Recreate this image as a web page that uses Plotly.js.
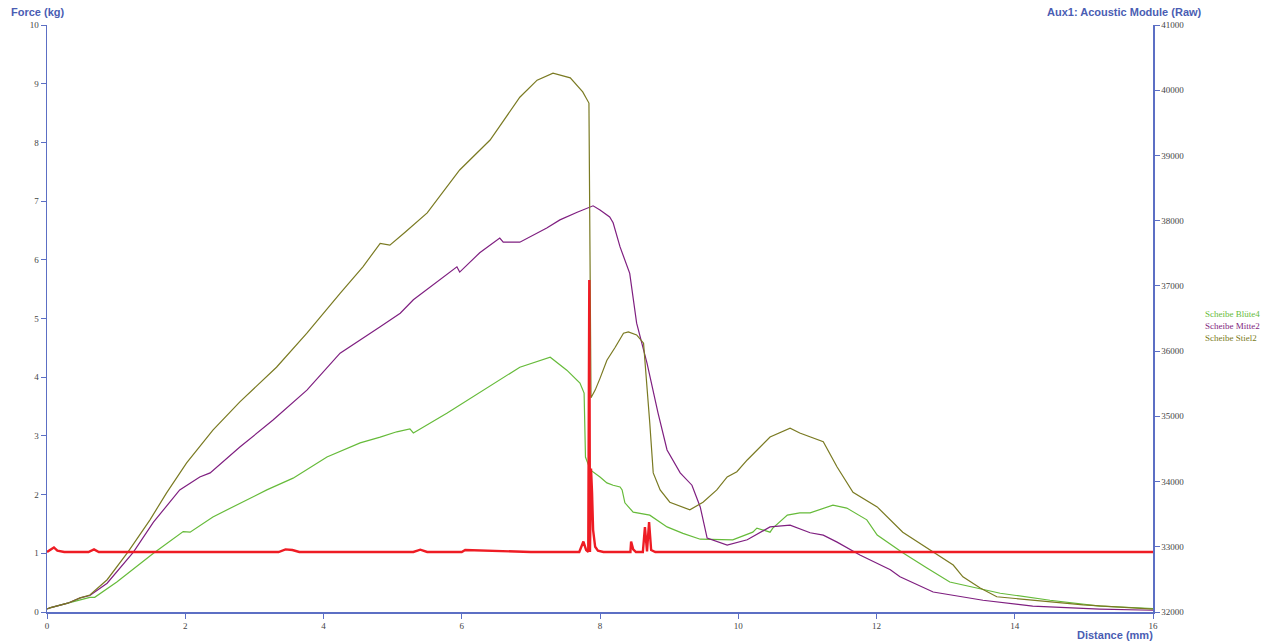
<!DOCTYPE html>
<html><head><meta charset="utf-8">
<script src="https://cdn.plot.ly/plotly-3.0.1.min.js"></script>
<style>html,body{margin:0;padding:0;background:#fff}#chart{width:1268px;height:641px}</style>
</head><body><div id="chart"></div>
<script>
// Scheibe Blüte4 (green)
const blueteX = [0,0.04,0.3,0.62,0.69,1.01,1.54,1.97,2.07,2.40,3.18,3.56,4.05,4.53,4.82,5.06,5.25,5.30,5.79,6.37,6.84,7.28,7.52,7.71,7.77,7.79,7.86,8.00,8.10,8.19,8.29,8.32,8.36,8.48,8.72,8.97,9.20,9.45,9.92,10.21,10.27,10.46,10.50,10.71,10.89,11.04,11.37,11.57,11.86,12.01,12.38,12.73,13.06,13.79,14.51,15.23,16];
const blueteY = [0.05,0.07,0.15,0.25,0.25,0.51,1.00,1.37,1.36,1.62,2.08,2.28,2.64,2.88,2.98,3.07,3.12,3.05,3.39,3.82,4.17,4.34,4.12,3.90,3.73,2.64,2.42,2.30,2.20,2.16,2.13,2.08,1.86,1.70,1.65,1.45,1.34,1.24,1.23,1.36,1.43,1.36,1.43,1.65,1.69,1.69,1.82,1.77,1.57,1.31,1.01,0.75,0.51,0.32,0.20,0.10,0.06];
// Scheibe Mitte2 (purple)
const mitteX = [0,0.04,0.3,0.48,0.62,0.87,1.25,1.54,1.92,2.21,2.36,2.79,3.27,3.76,4.24,4.53,4.82,5.11,5.30,5.93,5.97,6.26,6.55,6.60,6.84,7.23,7.42,7.67,7.90,8.00,8.14,8.19,8.29,8.43,8.53,8.68,8.84,8.97,9.16,9.33,9.45,9.55,9.84,10.13,10.46,10.75,11.04,11.23,11.43,11.76,12.20,12.34,12.82,13.54,14.26,15.23,16];
const mitteY = [0.05,0.07,0.15,0.24,0.28,0.49,1.02,1.53,2.08,2.30,2.37,2.81,3.27,3.78,4.41,4.63,4.86,5.09,5.32,5.88,5.79,6.12,6.37,6.30,6.30,6.54,6.68,6.81,6.92,6.85,6.73,6.63,6.22,5.77,4.92,4.24,3.39,2.76,2.37,2.16,1.79,1.26,1.14,1.23,1.45,1.48,1.35,1.31,1.19,0.97,0.72,0.60,0.34,0.20,0.10,0.05,0.03];
// Scheibe Stiel2 (olive)
const stielX = [0,0.04,0.3,0.48,0.62,0.87,1.17,1.49,1.73,2.02,2.40,2.79,3.32,3.76,4.24,4.57,4.82,4.96,5.18,5.50,5.97,6.41,6.84,7.09,7.32,7.57,7.75,7.84,7.87,7.93,8.00,8.10,8.22,8.34,8.41,8.53,8.63,8.68,8.72,8.77,8.87,9.01,9.30,9.49,9.69,9.84,9.98,10.13,10.46,10.75,10.89,11.23,11.43,11.66,12.01,12.38,12.82,13.11,13.25,13.50,13.74,14.26,14.99,16];
const stielY = [0.05,0.07,0.15,0.24,0.29,0.55,1.02,1.57,2.03,2.54,3.10,3.58,4.17,4.75,5.43,5.88,6.28,6.25,6.47,6.80,7.53,8.04,8.77,9.06,9.18,9.10,8.86,8.67,3.65,3.78,3.98,4.29,4.51,4.75,4.77,4.72,4.58,3.90,3.22,2.37,2.08,1.87,1.74,1.87,2.08,2.30,2.39,2.59,2.98,3.13,3.05,2.90,2.47,2.04,1.79,1.36,1.02,0.80,0.60,0.41,0.26,0.20,0.12,0.05];
// Aux1: Acoustic Module (Raw) (red, right axis)
const acX = [0,0.05,0.1,0.15,0.25,0.6,0.68,0.75,1.5,2.5,3.35,3.45,3.55,3.65,4.5,5.3,5.4,5.5,6.0,6.05,7.0,7.7,7.76,7.80,7.83,7.845,7.855,7.87,7.885,7.90,7.93,7.97,8.05,8.3,8.44,8.45,8.48,8.52,8.62,8.65,8.68,8.71,8.74,8.8,9.5,11,13,16];
const acY = [32920,32950,32990,32940,32920,32920,32960,32920,32920,32920,32920,32960,32950,32920,32920,32920,32955,32920,32920,32950,32920,32920,33080,32950,32920,37090,32920,34200,33830,33260,33000,32940,32920,32920,32920,33080,32960,32920,32920,33300,32930,33380,32950,32920,32920,32920,32920,32920];

const legendNames = ['Scheibe Blüte4','Scheibe Mitte2','Scheibe Stiel2'];
const cGreen = '#66bb3a', cPurple = '#7f1f80', cOlive = '#7a7a22', cRed = '#ee1c24';
const axisCol = '#5c6fc4', titleCol = '#4a5db3', tickFont = {family:'Liberation Serif, serif', size:9, color:'#444'};

const traces = [
  {x: acX, y: acY, yaxis:'y2', mode:'lines', line:{color:cRed, width:2.4}, name:'Aux1', showlegend:false},
  {x: blueteX, y: blueteY, mode:'lines', line:{color:cGreen, width:1.2}, name:legendNames[0], showlegend:false},
  {x: mitteX, y: mitteY, mode:'lines', line:{color:cPurple, width:1.2}, name:legendNames[1], showlegend:false},
  {x: stielX, y: stielY, mode:'lines', line:{color:cOlive, width:1.2}, name:legendNames[2], showlegend:false}
];

const layout = {
  width:1268, height:641,
  margin:{l:47, r:115, t:25, b:29, pad:0},
  paper_bgcolor:'#fff', plot_bgcolor:'#fff',
  showlegend:false,
  xaxis:{range:[0,16], dtick:2, tick0:0, showgrid:false, zeroline:false, showline:true, linecolor:axisCol, linewidth:1.5,
         ticks:'outside', ticklen:5, tickcolor:axisCol, tickfont:tickFont},
  yaxis:{range:[0,10], dtick:1, tick0:0, showgrid:false, zeroline:false, showline:true, linecolor:axisCol, linewidth:1.5,
         ticks:'outside', ticklen:5, tickcolor:axisCol, tickfont:tickFont},
  yaxis2:{range:[32000,41000], dtick:1000, tick0:32000, overlaying:'y', side:'right', showgrid:false, zeroline:false,
          showline:true, linecolor:axisCol, linewidth:1.5, ticks:'outside', ticklen:5, tickcolor:axisCol, tickfont:tickFont,
          tickformat:'d'},
  annotations:[
    {text:'<b>Force (kg)</b>', xref:'paper', yref:'paper', x:-0.034, y:1.0, yshift:13, xanchor:'left', yanchor:'middle', showarrow:false,
     font:{family:'Liberation Sans, Arial, sans-serif', size:11, color:titleCol}},
    {text:'<b>Aux1: Acoustic Module (Raw)</b>', xref:'paper', yref:'paper', x:1.0, xshift:51, y:1.0, yshift:13, xanchor:'right', yanchor:'middle', showarrow:false,
     font:{family:'Liberation Sans, Arial, sans-serif', size:11, color:titleCol}},
    {text:'<b>Distance (mm)</b>', xref:'paper', yref:'paper', x:1.0, xshift:2, y:0, yshift:-23, xanchor:'right', yanchor:'middle', showarrow:false,
     font:{family:'Liberation Sans, Arial, sans-serif', size:11, color:titleCol}},
    {text:legendNames[0], xref:'paper', yref:'paper', x:1.0, xshift:50, y:0, yshift:298, xanchor:'left', yanchor:'middle', showarrow:false,
     font:{family:'Liberation Serif, serif', size:9, color:cGreen}},
    {text:legendNames[1], xref:'paper', yref:'paper', x:1.0, xshift:50, y:0, yshift:286, xanchor:'left', yanchor:'middle', showarrow:false,
     font:{family:'Liberation Serif, serif', size:9, color:cPurple}},
    {text:legendNames[2], xref:'paper', yref:'paper', x:1.0, xshift:50, y:0, yshift:274, xanchor:'left', yanchor:'middle', showarrow:false,
     font:{family:'Liberation Serif, serif', size:9, color:cOlive}}
  ]
};
Plotly.newPlot('chart', traces, layout, {staticPlot:true, displayModeBar:false});
</script></body></html>
